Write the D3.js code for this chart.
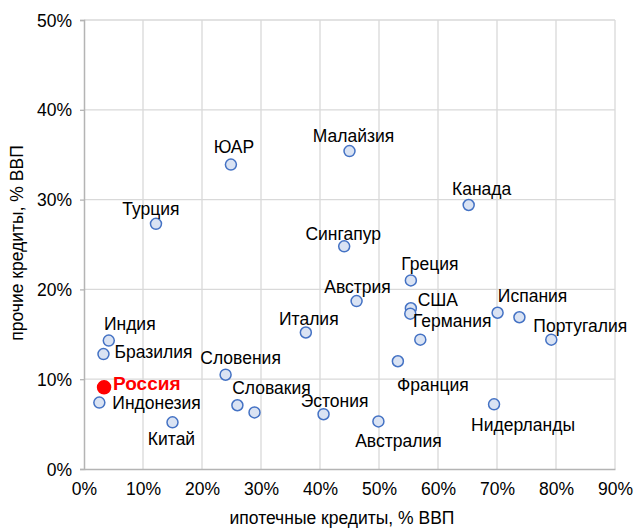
<!DOCTYPE html>
<html>
<head>
<meta charset="utf-8">
<script src="https://cdn.jsdelivr.net/npm/d3@7"></script>
<style>
  body { margin: 0; background: #fff; }
  svg text { font-family: "Liberation Sans", Arial, sans-serif; }
</style>
</head>
<body>
<div id="chart"></div>
<script>
// countries, mortgage loans (% GDP) and other loans (% GDP)
const countries = ["ЮАР", "Турция", "Малайзия", "Канада", "Сингапур", "Греция", "Австрия",
    "США", "Германия", "", "Франция", "Испания", "", "Португалия", "Нидерланды", "Эстония",
    "Австралия", "Италия", "Индия", "Бразилия", "Россия", "Индонезия", "Китай", "Словения",
    "Словакия", ""];
const mortgage = [24.9, 12.2, 45.0, 65.2, 44.1, 55.4, 46.2, 55.4, 55.3, 57.0, 53.2, 70.1, 73.8,
    79.2, 69.5, 40.6, 49.9, 37.6, 4.2, 3.3, 3.4, 2.6, 15.0, 24.0, 26.0, 28.9];
const other = [33.9, 27.3, 35.4, 29.4, 24.8, 21.0, 18.7, 17.9, 17.3, 14.4, 12.0, 17.4, 16.9,
    14.4, 7.2, 6.1, 5.3, 15.2, 14.3, 12.8, 9.1, 7.4, 5.2, 10.5, 7.1, 6.3];
const xTicks = [0, 10, 20, 30, 40, 50, 60, 70, 80, 90];
const yTicks = [0, 10, 20, 30, 40, 50];
const highlight = "Россия";

// label offsets from the point (dx, dy in px, anchor)
const labelPos = {
    "ЮАР": [3, -12, "middle"], "Турция": [-5, -9, "middle"], "Малайзия": [4, -9, "middle"],
    "Канада": [13, -10, "middle"], "Сингапур": [-1, -6, "middle"], "Греция": [19, -10, "middle"],
    "Австрия": [1, -8, "middle"], "США": [27, -2, "middle"], "Германия": [42, 13, "middle"],
    "Франция": [35, 30, "middle"], "Испания": [35, -11, "middle"], "Португалия": [29, -8, "middle"],
    "Нидерланды": [29, 27, "middle"], "Эстония": [11, -7, "middle"], "Австралия": [20, 26, "middle"],
    "Италия": [3, -8, "middle"], "Индия": [21, -11, "middle"], "Бразилия": [11, 4, "start"],
    "Россия": [9, 3, "start"], "Индонезия": [13, 6, "start"], "Китай": [-1, 23, "middle"],
    "Словения": [15, -11, "middle"], "Словакия": [34, -11, "middle"]
};

const width = 635, height = 529;
const margin = {top: 20, right: 20, bottom: 60, left: 84};
const fontSize = 17.5;

const svg = d3.select("#chart").append("svg")
    .attr("width", width)
    .attr("height", height);

const x = d3.scaleLinear().domain([0, 90]).range([margin.left, width - margin.right]);
const y = d3.scaleLinear().domain([0, 50]).range([height - margin.bottom, margin.top]);

// gridlines
svg.append("g").selectAll("line").data(xTicks.slice(1)).enter().append("line")
    .attr("x1", d => x(d)).attr("x2", d => x(d))
    .attr("y1", y(0)).attr("y2", y(50))
    .attr("stroke", "#d9d9d9").attr("stroke-width", 1.3);
svg.append("g").selectAll("line").data(yTicks.slice(1)).enter().append("line")
    .attr("x1", x(0)).attr("x2", x(90))
    .attr("y1", d => y(d)).attr("y2", d => y(d))
    .attr("stroke", "#d9d9d9").attr("stroke-width", 1.3);

// axes
const xAxis = svg.append("g")
    .attr("transform", "translate(0," + y(0) + ")")
    .call(d3.axisBottom(x).tickValues(xTicks).tickSize(0).tickFormat(d => d + "%").tickPadding(14));
const yAxis = svg.append("g")
    .attr("transform", "translate(" + x(0) + ",0)")
    .call(d3.axisLeft(y).tickValues(yTicks).tickSize(4).tickFormat(d => d + "%").tickPadding(8));
[xAxis, yAxis].forEach(a => {
    a.select(".domain").attr("stroke", "#b4b4b4").attr("stroke-width", 1.5);
    a.selectAll(".tick line").attr("stroke", "#b4b4b4").attr("stroke-width", 1.3);
    a.selectAll("text").attr("font-size", fontSize).attr("fill", "#000")
        .style("font-family", "'Liberation Sans', Arial, sans-serif");
});
yAxis.selectAll("text").attr("dy", "0.35em");

// axis titles
svg.append("text")
    .attr("x", 342).attr("y", 524)
    .attr("text-anchor", "middle").attr("font-size", fontSize)
    .text("ипотечные кредиты, % ВВП");
svg.append("text")
    .attr("transform", "translate(23,243) rotate(-90)")
    .attr("text-anchor", "middle").attr("font-size", fontSize)
    .text("прочие кредиты, % ВВП");

// points
const data = countries.map((c, i) => ({name: c, x: mortgage[i], y: other[i]}));

svg.append("g").selectAll("circle").data(data).enter().append("circle")
    .attr("cx", d => x(d.x)).attr("cy", d => y(d.y))
    .attr("r", d => d.name === highlight ? 6.5 : 5.5)
    .attr("fill", d => d.name === highlight ? "#ff0000" : "#dae3f3")
    .attr("stroke", d => d.name === highlight ? "#ff0000" : "#4472c4")
    .attr("stroke-width", 1.5);

// labels
svg.append("g").selectAll("text").data(data.filter(d => d.name)).enter().append("text")
    .attr("x", d => x(d.x) + labelPos[d.name][0])
    .attr("y", d => y(d.y) + labelPos[d.name][1])
    .attr("text-anchor", d => labelPos[d.name][2])
    .attr("font-size", d => d.name === highlight ? 19 : fontSize)
    .attr("font-weight", d => d.name === highlight ? "bold" : "normal")
    .attr("fill", d => d.name === highlight ? "#ff0000" : "#000")
    .text(d => d.name);
</script>
</body>
</html>
